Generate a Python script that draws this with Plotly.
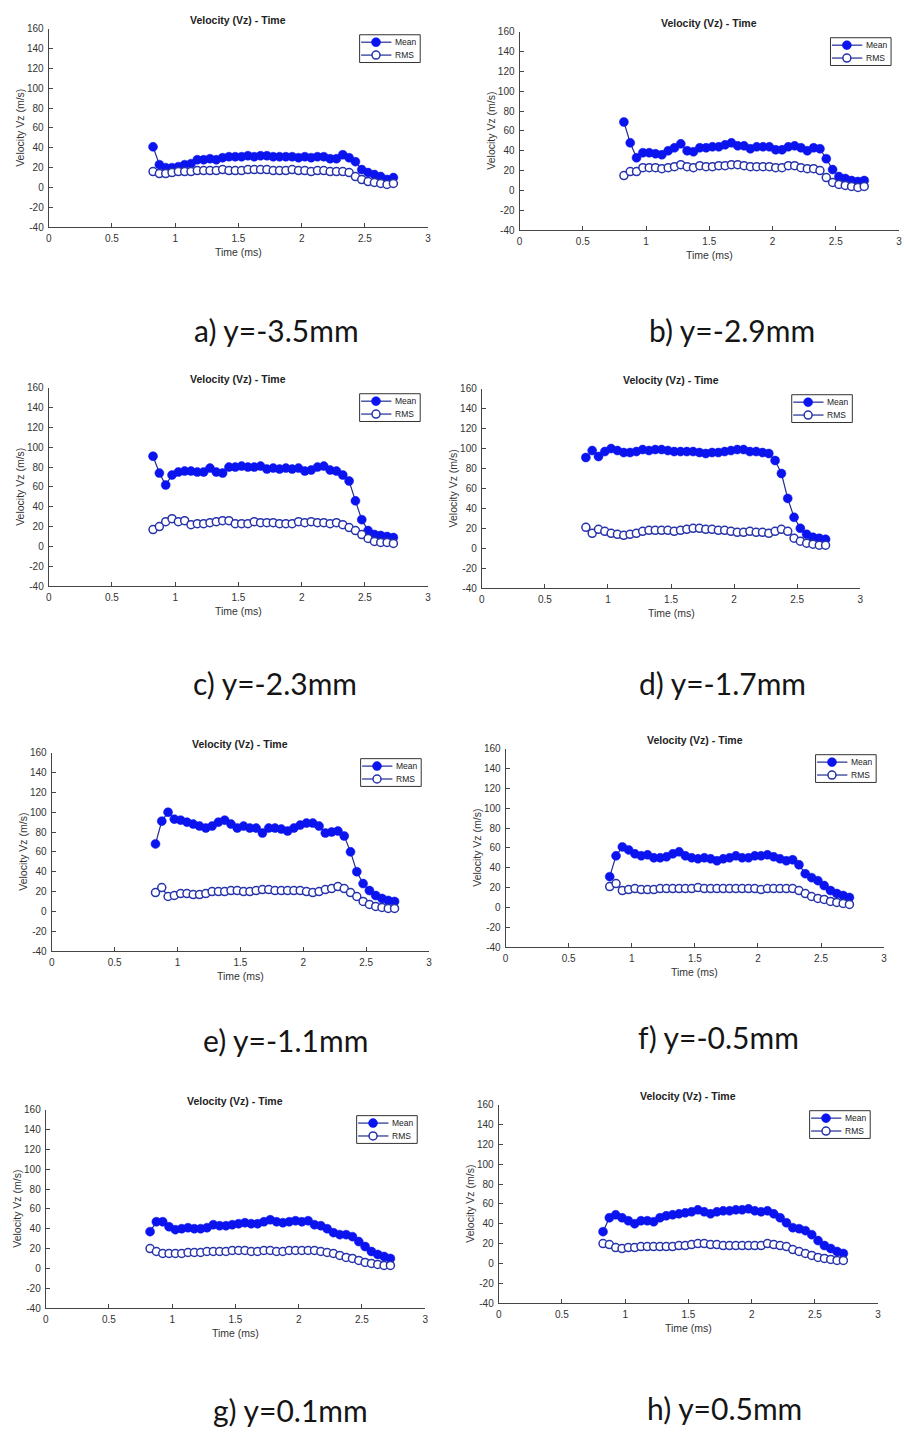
import plotly.graph_objects as go

W, H = 904, 1436

# Sample times (ms)
time_ms = [0.825, 0.875, 0.925, 0.975, 1.025, 1.075, 1.125, 1.175, 1.225, 1.275,
           1.325, 1.375, 1.425, 1.475, 1.525, 1.575, 1.625, 1.675, 1.725, 1.775,
           1.825, 1.875, 1.925, 1.975, 2.025, 2.075, 2.125, 2.175, 2.225, 2.275,
           2.325, 2.375, 2.425, 2.475, 2.525, 2.575, 2.625, 2.675, 2.725]

# Mean and RMS of Vz (m/s) at each radial position
mean_a = [41, 23, 20, 20, 21, 23, 24, 28, 28, 29,
          28, 30, 31, 31, 31, 32, 31, 32, 32, 31,
          31, 31, 31, 30, 31, 30, 31, 31, 29, 29,
          33, 30, 26, 18, 15, 13, 11, 8, 10]
rms_a = [16, 14, 14, 15, 16, 16, 16, 17, 17, 17,
         17, 18, 17, 17, 17, 18, 18, 18, 18, 17,
         17, 17, 18, 17, 17, 16, 17, 17, 16, 16,
         16, 15, 11, 8, 6, 5, 4, 3, 4]

mean_b = [69, 48, 33, 38, 38, 37, 36, 40, 43, 47,
          40, 39, 43, 43, 44, 44, 46, 48, 45, 45,
          42, 44, 44, 44, 41, 41, 44, 45, 43, 40,
          43, 42, 32, 21, 14, 12, 10, 9, 10]
rms_b = [15, 19, 19, 23, 23, 23, 22, 23, 24, 26,
         24, 23, 25, 24, 24, 25, 25, 26, 26, 25,
         24, 24, 24, 24, 23, 23, 25, 25, 23, 22,
         22, 20, 13, 8, 6, 5, 4, 3, 4]

mean_c = [91, 74, 62, 72, 75, 76, 76, 75, 75, 79,
          75, 74, 80, 80, 81, 80, 80, 81, 78, 79,
          78, 79, 78, 79, 76, 77, 80, 81, 77, 76,
          72, 66, 46, 27, 16, 12, 11, 10, 9]
rms_c = [17, 20, 25, 28, 25, 26, 22, 23, 23, 24,
         25, 26, 26, 23, 23, 23, 25, 24, 24, 24,
         23, 23, 23, 25, 24, 25, 24, 24, 23, 24,
         22, 19, 16, 12, 8, 5, 4, 4, 3]

mean_d = [91, 98, 92, 97, 100, 98, 96, 96, 97, 99,
          98, 99, 99, 98, 97, 97, 97, 97, 96, 95,
          96, 96, 97, 98, 99, 99, 97, 97, 96, 95,
          88, 75, 50, 31, 20, 14, 11, 10, 9]
rms_d = [21, 15, 19, 17, 15, 14, 13, 14, 15, 17,
         18, 18, 18, 18, 17, 18, 19, 20, 20, 19,
         19, 18, 18, 17, 16, 16, 17, 16, 16, 15,
         17, 19, 17, 10, 7, 5, 4, 3, 3]

mean_e = [68, 91, 100, 93, 92, 90, 88, 86, 84, 86,
          90, 92, 88, 84, 86, 84, 84, 79, 84, 84,
          83, 81, 84, 87, 89, 89, 86, 79, 80, 81,
          76, 60, 40, 28, 21, 16, 13, 11, 10]
rms_e = [19, 24, 15, 16, 18, 18, 17, 17, 18, 20,
         20, 20, 21, 21, 20, 20, 21, 22, 22, 21,
         21, 21, 21, 21, 20, 19, 20, 22, 23, 25,
         23, 19, 15, 10, 7, 5, 4, 3, 3]

mean_f = [31, 52, 61, 58, 54, 52, 53, 50, 50, 51,
          54, 56, 52, 50, 49, 50, 49, 47, 49, 50,
          52, 50, 50, 52, 52, 53, 51, 49, 47, 48,
          43, 34, 30, 27, 22, 17, 14, 12, 10]
rms_f = [21, 24, 17, 18, 19, 18, 18, 18, 19, 19,
         19, 19, 19, 19, 20, 19, 19, 19, 19, 19,
         19, 19, 19, 19, 18, 19, 19, 19, 19, 19,
         17, 14, 11, 9, 8, 6, 5, 4, 3]

mean_g = [37, 47, 47, 42, 39, 40, 41, 40, 40, 41,
          44, 43, 43, 44, 45, 46, 45, 45, 47, 49,
          47, 46, 47, 48, 47, 48, 44, 43, 40, 36,
          34, 34, 32, 27, 22, 17, 14, 12, 10]
rms_g = [20, 17, 15, 15, 15, 15, 16, 16, 16, 17,
         17, 17, 17, 18, 18, 18, 17, 17, 18, 18,
         17, 17, 18, 18, 18, 18, 18, 17, 16, 15,
         13, 11, 10, 8, 6, 5, 4, 3, 3]

mean_h = [32, 46, 49, 46, 43, 40, 43, 43, 42, 46,
          48, 49, 50, 51, 52, 54, 52, 50, 52, 53,
          53, 54, 54, 55, 53, 52, 53, 50, 46, 41,
          36, 35, 33, 29, 23, 18, 15, 12, 10]
rms_h = [20, 19, 16, 15, 16, 16, 17, 17, 17, 17,
         17, 17, 18, 18, 19, 20, 20, 19, 19, 18,
         18, 18, 18, 18, 18, 18, 20, 19, 18, 17,
         14, 12, 10, 8, 6, 5, 4, 3, 3]

captions = ["a) y=-3.5mm", "b) y=-2.9mm", "c) y=-2.3mm", "d) y=-1.7mm",
            "e) y=-1.1mm", "f) y=-0.5mm", "g) y=0.1mm", "h) y=0.5mm"]
series_names = ["Mean", "RMS"]

x_ticks = [0, 0.5, 1, 1.5, 2, 2.5, 3]
y_ticks = [-40, -20, 0, 20, 40, 60, 80, 100, 120, 140, 160]

panels = [(mean_a, rms_a), (mean_b, rms_b), (mean_c, rms_c), (mean_d, rms_d),
          (mean_e, rms_e), (mean_f, rms_f), (mean_g, rms_g), (mean_h, rms_h)]

# Axes boxes in pixels: left, right, top, bottom
boxes = [(46, 428, 23, 223), (520, 902, 26, 226),
         (46, 428, 385, 585), (482, 863, 386, 587),
         (49, 429, 753, 953), (506, 887, 749, 949),
         (43, 425, 1113, 1313), (499, 881, 1108, 1308)]
# Caption centres in pixels
caption_xy = [(275, 327), (734, 327), (274, 683), (724, 683),
              (284, 1043), (720, 1040), (289, 1416), (726, 1414)]

AX = "#454545"
TXT = "#333333"
LINE = "#1f2b8f"
MEAN_FILL = "#0b14ee"
RMS_EDGE = "#2633aa"
SANS = "Liberation Sans, Arial, sans-serif"
TICK_FONT = dict(family=SANS, size=10, color=TXT)

# Legend box geometry (pixels, relative to the box's top-left corner)
LEG_W, LEG_H = 61, 28
LEG_ROWS = [7.5, 20.5]
LEG_LINE = (1.5, 32)
LEG_MARK = 16.5
LEG_TEXT = 33.5


def px_x(v):
    return v / W


def px_y(v):
    return 1 - v / H


fig = go.Figure()
layout = dict(
    width=W, height=H,
    margin=dict(l=0, r=0, t=0, b=0),
    paper_bgcolor="white", plot_bgcolor="white",
    showlegend=False,
)
annotations = []
shapes = []

mean_marker = dict(symbol="circle", size=9, color=MEAN_FILL,
                   line=dict(color=MEAN_FILL, width=0.5))
rms_marker = dict(symbol="circle", size=8, color="white",
                  line=dict(color=RMS_EDGE, width=1.5))

for i, ((mean_v, rms_v), (l, r, t, b)) in enumerate(zip(panels, boxes)):
    n = i + 1
    sfx = "" if n == 1 else str(n)
    xa, ya = "x" + sfx, "y" + sfx

    fig.add_trace(go.Scatter(
        x=time_ms, y=mean_v, name=series_names[0], mode="lines+markers",
        xaxis=xa, yaxis=ya,
        line=dict(color=LINE, width=1.2), marker=mean_marker,
    ))
    fig.add_trace(go.Scatter(
        x=time_ms, y=rms_v, name=series_names[1], mode="lines+markers",
        xaxis=xa, yaxis=ya,
        line=dict(color=LINE, width=1.2), marker=rms_marker,
    ))

    common = dict(
        showline=True, linecolor=AX, linewidth=1, mirror=False,
        ticks="inside", ticklen=4, tickcolor=AX, tickwidth=1,
        showgrid=False, zeroline=False, tickfont=TICK_FONT,
        ticklabelstandoff=2,
    )
    layout["xaxis" + sfx] = dict(
        domain=[px_x(l), px_x(r)], anchor=ya, range=[0, 3],
        tickmode="array", tickvals=x_ticks,
        ticktext=[f"{v:g}" for v in x_ticks], **common,
    )
    layout["yaxis" + sfx] = dict(
        domain=[px_y(b), px_y(t)], anchor=xa, range=[-40, 160],
        tickmode="array", tickvals=y_ticks,
        ticktext=[str(v) for v in y_ticks], **common,
    )

    cx = (l + r) / 2
    annotations.append(dict(
        text="<b>Velocity (Vz) - Time</b>", xref="paper", yref="paper",
        x=px_x(cx), y=px_y(t - 9), xanchor="center", yanchor="middle",
        showarrow=False, font=dict(family=SANS, size=10.5, color="#222222"),
    ))
    annotations.append(dict(
        text="Time (ms)", xref="paper", yref="paper",
        x=px_x(cx), y=px_y(b + 25), xanchor="center", yanchor="middle",
        showarrow=False, font=dict(family=SANS, size=10.5, color=TXT),
    ))
    annotations.append(dict(
        text="Velocity Vz (m/s)", xref="paper", yref="paper",
        x=px_x(l - 29), y=px_y((t + b) / 2), xanchor="center", yanchor="middle",
        textangle=-90, showarrow=False,
        font=dict(family=SANS, size=10.5, color=TXT),
    ))
    capx, capy = caption_xy[i]
    annotations.append(dict(
        text=captions[i], xref="paper", yref="paper",
        x=px_x(capx), y=px_y(capy), xanchor="center", yanchor="middle",
        showarrow=False,
        font=dict(family="Lato, Carlito, sans-serif", size=30, color="#151515"),
    ))

    # Legend box in the upper-right corner of the axes
    lx0, ly0 = r - 8 - LEG_W, t + 6
    shapes.append(dict(
        type="rect", xref="paper", yref="paper",
        x0=px_x(lx0), x1=px_x(lx0 + LEG_W), y0=px_y(ly0), y1=px_y(ly0 + LEG_H),
        line=dict(color="#333333", width=1), fillcolor="white", layer="above",
    ))
    for row, name, marker in zip(LEG_ROWS, series_names, [mean_marker, rms_marker]):
        yy = ly0 + row
        shapes.append(dict(
            type="line", xref="paper", yref="paper",
            x0=px_x(lx0 + LEG_LINE[0]), x1=px_x(lx0 + LEG_LINE[1]),
            y0=px_y(yy), y1=px_y(yy),
            line=dict(color=LINE, width=1.2), layer="above",
        ))
        rad = marker["size"] / 2
        shapes.append(dict(
            type="circle", xref="paper", yref="paper",
            xsizemode="pixel", ysizemode="pixel",
            xanchor=px_x(lx0 + LEG_MARK), yanchor=px_y(yy),
            x0=-rad, x1=rad, y0=-rad, y1=rad,
            fillcolor=marker["color"],
            line=dict(color=marker["line"]["color"], width=marker["line"]["width"]),
            layer="above",
        ))
        annotations.append(dict(
            text=name, xref="paper", yref="paper",
            x=px_x(lx0 + LEG_TEXT), y=px_y(yy), xanchor="left", yanchor="middle",
            showarrow=False, font=dict(family=SANS, size=8.5, color="#222222"),
        ))

layout["annotations"] = annotations
layout["shapes"] = shapes
fig.update_layout(**layout)
fig.write_html("out.html")
